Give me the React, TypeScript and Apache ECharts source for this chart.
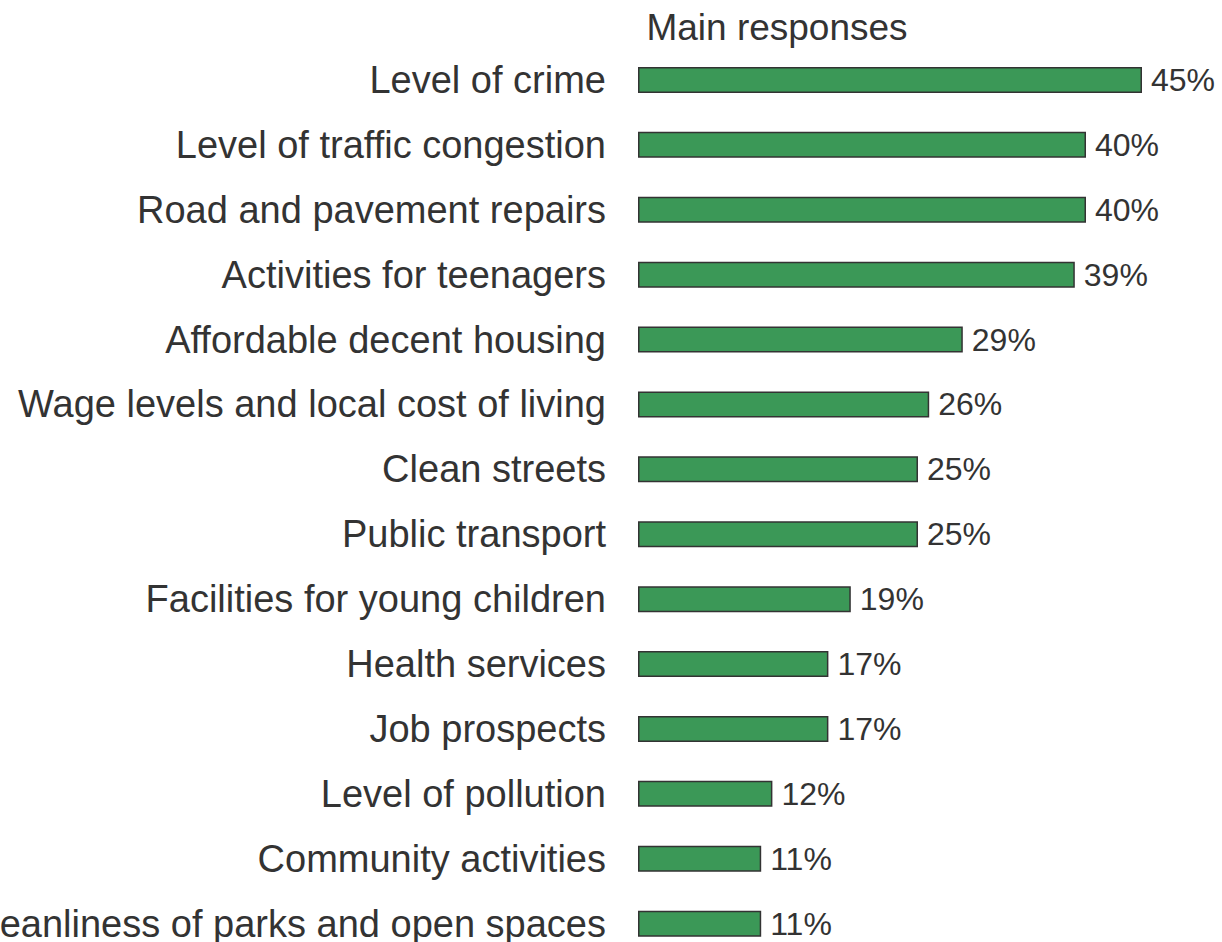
import React, { useEffect, useRef } from "react";
import * as echarts from "echarts";

const categories = [
  "Level of crime",
  "Level of traffic congestion",
  "Road and pavement repairs",
  "Activities for teenagers",
  "Affordable decent housing",
  "Wage levels and local cost of living",
  "Clean streets",
  "Public transport",
  "Facilities for young children",
  "Health services",
  "Job prospects",
  "Level of pollution",
  "Community activities",
  "Cleanliness of parks and open spaces",
];
const values = [45, 40, 40, 39, 29, 26, 25, 25, 19, 17, 17, 12, 11, 11];
const titleText = "Main responses";

const FONT = "'Liberation Sans', Arial, sans-serif";
const TEXT_COLOR = "#333333";

export default function App() {
  const ref = useRef<HTMLDivElement>(null);
  useEffect(() => {
    if (!ref.current) return;
    const chart = echarts.init(ref.current, undefined, { renderer: "svg" });
    chart.setOption({
      animation: false,
      backgroundColor: "#ffffff",
      graphic: [
        {
          type: "text",
          x: 777,
          y: 27,
          style: {
            text: titleText,
            fill: TEXT_COLOR,
            font: `37px ${FONT}`,
            textAlign: "center",
            textVerticalAlign: "middle",
          },
        },
      ],
      grid: {
        left: 638,
        width: 560,
        top: 47.5,
        height: 908.6,
        containLabel: false,
        outerBoundsMode: "none",
      },
      xAxis: {
        type: "value",
        min: 0,
        max: 50,
        show: false,
      },
      yAxis: {
        type: "category",
        data: categories,
        inverse: true,
        axisLine: { show: false },
        axisTick: { show: false },
        axisLabel: {
          margin: 32,
          fontSize: 38,
          fontFamily: FONT,
          color: TEXT_COLOR,
        },
      },
      series: [
        {
          type: "bar",
          data: values,
          barWidth: 26,
          itemStyle: {
            color: "#3b9857",
            borderColor: "#333333",
            borderWidth: 1.5,
          },
          label: {
            show: true,
            position: "right",
            distance: 9,
            formatter: "{c}%",
            fontSize: 32,
            fontFamily: FONT,
            color: TEXT_COLOR,
          },
        },
      ],
    });
    return () => chart.dispose();
  }, []);
  return (
    <div
      ref={ref}
      style={{ position: "absolute", left: 0, top: 0, width: 1222, height: 942 }}
    />
  );
}
